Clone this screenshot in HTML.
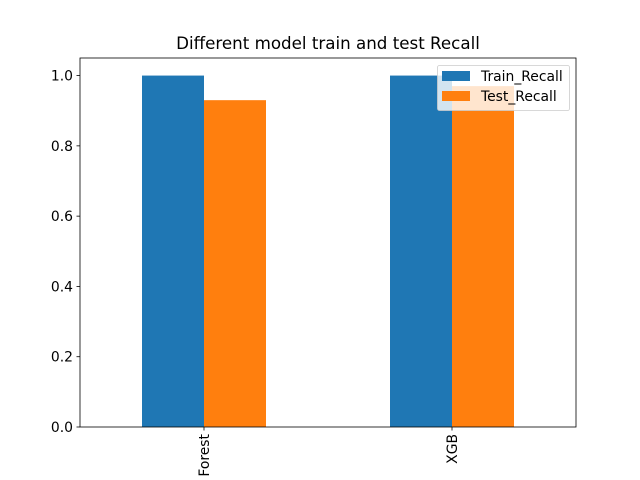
<!DOCTYPE html>
<html><head><meta charset="utf-8"><style>body{margin:0;background:#fff}svg{display:block;font-family:"DejaVu Sans","Liberation Sans",sans-serif}</style></head>
<body>
<svg id="chart" width="640" height="480" viewBox="0 0 640 480">
<rect width="640" height="480" fill="#fff"/>
<text x="328" y="49" text-anchor="middle" font-size="16.7">Different model train and test Recall</text>
<g id="bars"></g>
<g id="axes"></g>
</svg>
<script>
const categories = ["Forest", "XGB"];
const trainRecall = [1.0, 1.0];
const testRecall = [0.93, 0.97];
const yTicks = [0.0, 0.2, 0.4, 0.6, 0.8, 1.0];
const seriesNames = ["Train_Recall", "Test_Recall"];

const NS = "http://www.w3.org/2000/svg";
const L = 80, R = 576, T = 58, B = 427;
const yMax = 1.05;
const x = i => L + (i + 0.5) / categories.length * (R - L);
const y = v => B - v / yMax * (B - T);
const bw = (R - L) / (categories.length * 2) * 0.5;
function mk(tag, attrs, parent) { const e = document.createElementNS(NS, tag); for (const k in attrs) e.setAttribute(k, attrs[k]); parent.appendChild(e); return e; }
const bars = document.getElementById("bars"), axes = document.getElementById("axes");
const colors = ["#1f77b4", "#ff7f0e"];
[trainRecall, testRecall].forEach((s, si) => {
  s.forEach((v, i) => {
    const r = mk("rect", { x: x(i) - bw + si * bw, y: y(v), width: bw, height: B - y(v), fill: colors[si] }, bars);
    
    
  });
});
mk("rect", { x: L, y: T, width: R - L, height: B - T, fill: "none", stroke: "#000", "stroke-width": 0.8 }, axes);
yTicks.forEach(t => {
  mk("line", { x1: L - 3.5, x2: L, y1: y(t), y2: y(t), stroke: "#000", "stroke-width": 0.8 }, axes);
  const tx = mk("text", { x: L - 7, y: y(t) + 5, "text-anchor": "end", "font-size": 13.9 }, axes);
  tx.textContent = t.toFixed(1);
  
  
});
categories.forEach((c, i) => {
  mk("line", { x1: x(i), x2: x(i), y1: B, y2: B + 3.5, stroke: "#000", "stroke-width": 0.8 }, axes);
  const tx = mk("text", { x: 0, y: 0, "text-anchor": "end", "font-size": 13.9, transform: `translate(${x(i) + 5},${B + 7}) rotate(-90)` }, axes);
  tx.textContent = c;
  
  
});
const lg = mk("g", {}, axes);


mk("rect", { x: 437.5, y: 65.5, width: 132, height: 45, rx: 2, fill: "#fff", "fill-opacity": 0.8, stroke: "#ccc", "stroke-width": 0.8 }, lg);
seriesNames.forEach((n, i) => {
  const sw = mk("rect", { x: 442, y: 71 + i * 20, width: 28, height: 10, fill: colors[i] }, lg);
  
  
  const t = mk("text", { x: 481, y: 81 + i * 20, "font-size": 13.9 }, lg);
  t.textContent = n;
  
  
});
</script>
</body></html>
